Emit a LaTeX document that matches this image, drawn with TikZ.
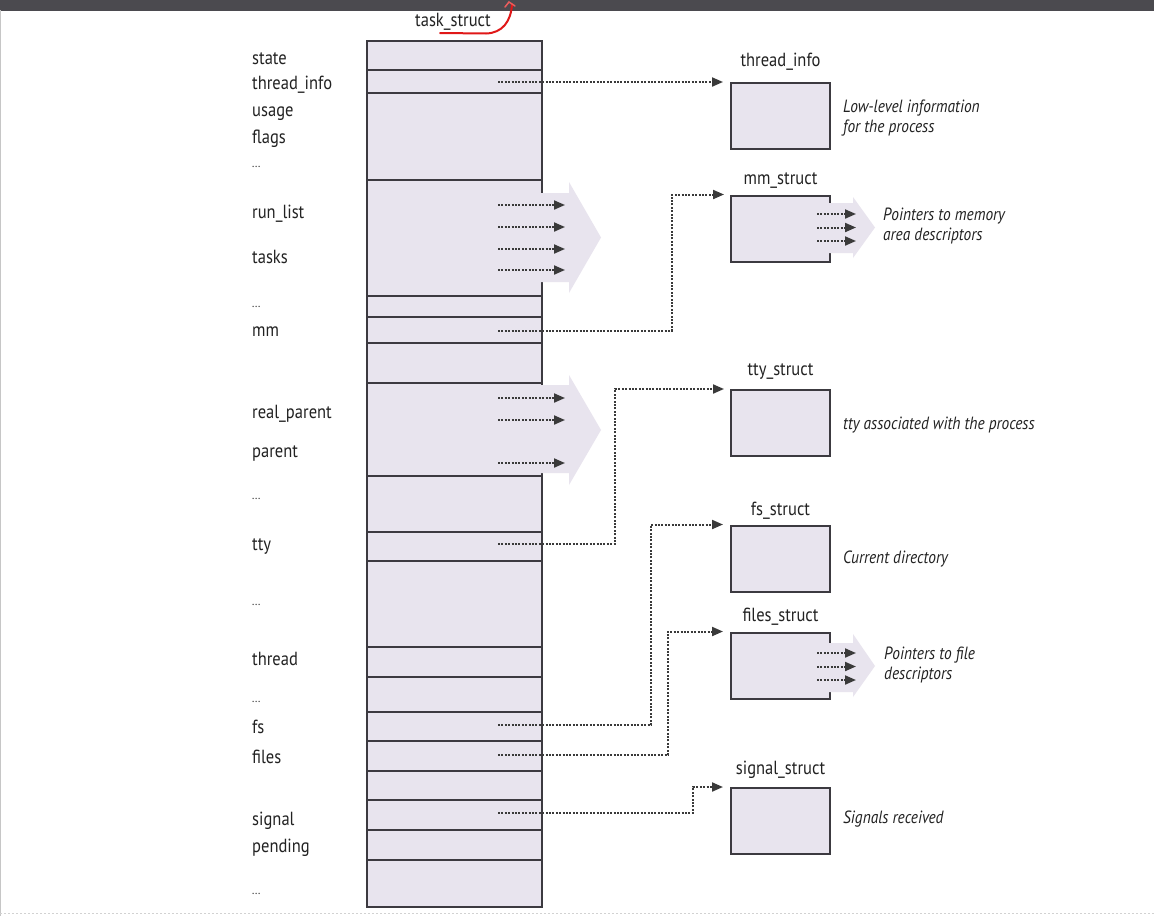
\documentclass[tikz,border=0pt]{standalone}
\usepackage{fontspec}
\setmainfont{PT Sans}[FakeStretch=0.87]
\usetikzlibrary{arrows.meta,calc}
\definecolor{cellfill}{HTML}{E8E4EE}
\definecolor{edgec}{HTML}{3C3A40}
\definecolor{dotc}{HTML}{3A3A3A}
\definecolor{barc}{HTML}{4B4A4F}
\definecolor{redmark}{HTML}{E01818}
\definecolor{txtc}{HTML}{222222}
\tikzset{
  fld/.style={anchor=base west,inner sep=0pt,text=txtc,font=\fontsize{19}{22}\selectfont},
  ttl/.style={anchor=base,inner sep=0pt,text=txtc,font=\fontsize{19}{22}\selectfont},
  dsc/.style={anchor=base west,inner sep=0pt,text=txtc,align=left,font=\fontsize{17.7}{20}\selectfont\itshape},
  sbox/.style={draw=edgec,line width=2pt,fill=cellfill,minimum width=99pt,minimum height=66pt,inner sep=0pt},
  rowline/.style={draw=edgec,line width=2pt},
  ptr/.style={draw=dotc,line width=2pt,dash pattern=on 2pt off 1.4pt,-{Triangle[length=11pt,width=9pt]}},
  fat/.style={fill=cellfill,draw=none},
}
\begin{document}
\begin{tikzpicture}[x=1pt,y=-1pt]
\useasboundingbox (0,0) rectangle (1154,916);
\fill[white] (0,0) rectangle (1154,916);
% window bar
\fill[barc] (0,0) rectangle (1154,10.5);
\draw[gray!45,line width=1pt] (0.5,10) -- (0.5,916);
\draw[gray!35,line width=1pt,dash pattern=on 2pt off 2pt] (0,913) -- (1154,913);

% task_struct column
\node[ttl] (tstitle) at (453,26) {task\_struct};
\draw[fill=cellfill,draw=edgec,line width=2pt] (367,41) rectangle (542,907);
\foreach \yy in {70,93,180,296,317,343,383,476,532,561,647,677,712,741,771,800,830,860}
  \draw[rowline] (367,\yy) -- (542,\yy);

% fat arrows out of the column
\path[fat] (535,193) -- (569,193) -- (569,182) -- (601,237.5) -- (569,293) -- (569,282) -- (535,282) -- cycle;
\path[fat] (535,385) -- (569,385) -- (569,375) -- (601,430) -- (569,485) -- (569,473) -- (535,473) -- cycle;

% field labels
\node[fld] (f-state) at (252,64) {state};
\node[fld] (f-ti) at (252,89) {thread\_info};
\node[fld] (f-usage) at (252,116) {usage};
\node[fld] (f-flags) at (252,143) {flags};
\node[fld,font=\fontsize{12}{12}\selectfont] (f-d1) at (252,167) {...};
\node[fld] (f-run) at (252,218) {run\_list};
\node[fld] (f-tasks) at (252,263) {tasks};
\node[fld,font=\fontsize{12}{12}\selectfont] (f-d2) at (252,307) {...};
\node[fld] (f-mm) at (252,336) {mm};
\node[fld] (f-rp) at (252,418) {real\_parent};
\node[fld] (f-parent) at (252,457) {parent};
\node[fld,font=\fontsize{12}{12}\selectfont] (f-d3) at (252,499) {...};
\node[fld] (f-tty) at (252,550) {tty};
\node[fld,font=\fontsize{12}{12}\selectfont] (f-d4) at (252,605) {...};
\node[fld] (f-thread) at (252,665) {thread};
\node[fld,font=\fontsize{12}{12}\selectfont] (f-d5) at (252,702) {...};
\node[fld] (f-fs) at (252,733) {fs};
\node[fld] (f-files) at (252,763) {files};
\node[fld] (f-signal) at (252,825) {signal};
\node[fld] (f-pending) at (252,852) {pending};
\node[fld,font=\fontsize{12}{12}\selectfont] (f-d6) at (252,894) {...};

% pointer start points inside the column
\coordinate (s-ti) at (498,82);
\coordinate (s-mm) at (498,330.5);
\coordinate (s-tty) at (498,544);
\coordinate (s-fs) at (498,725);
\coordinate (s-files) at (498,755);
\coordinate (s-sig) at (498,813);
\foreach \yy [count=\i] in {205,227,249,270} {
  \coordinate (la\i) at (498,\yy);
  \coordinate (lb\i) at (565,\yy);
  \draw[ptr] (la\i) -- (lb\i);
}
\foreach \yy [count=\i] in {398,420,463} {
  \coordinate (pa\i) at (498,\yy);
  \coordinate (pb\i) at (565,\yy);
  \draw[ptr] (pa\i) -- (pb\i);
}

% right-hand structures
\node[sbox] (ti) at (780.5,116) {};
\node[sbox] (mm) at (780.5,228.5) {};
\node[sbox] (tty) at (780.5,423) {};
\node[sbox] (fs) at (780.5,558.5) {};
\node[sbox] (files) at (780.5,665.5) {};
\node[sbox] (sig) at (780.5,821) {};

\node[ttl] (t-ti) at ([yshift=16pt]ti.north) {thread\_info};
\node[ttl] (t-mm) at ([yshift=10pt]mm.north) {mm\_struct};
\node[ttl] (t-tty) at ([yshift=14pt]tty.north) {tty\_struct};
\node[ttl] (t-fs) at ([yshift=9pt]fs.north) {fs\_struct};
\node[ttl] (t-files) at ([yshift=10pt]files.north) {files\_struct};
\node[ttl] (t-sig) at ([yshift=13pt]sig.north) {signal\_struct};

% small fat arrows out of mm_struct and files_struct
\path[fat] (826,203) -- (853,203) -- (853,197) -- (875,227.5) -- (853,258) -- (853,253) -- (826,253) -- cycle;
\path[fat] (826,643) -- (853,643) -- (853,634) -- (875,666) -- (853,697) -- (853,692) -- (826,692) -- cycle;
\foreach \yy [count=\i] in {214,227.5,241} {
  \coordinate (ma\i) at (817,\yy);
  \coordinate (mb\i) at (856,\yy);
  \draw[ptr] (ma\i) -- (mb\i);
}
\foreach \yy [count=\i] in {653,666.5,680} {
  \coordinate (fa\i) at (817,\yy);
  \coordinate (fb\i) at (856,\yy);
  \draw[ptr] (fa\i) -- (fb\i);
}

% descriptions (base = baseline of the last line)
\node[dsc] (d-ti) at (843,132) {Low-level information\\for the process};
\node[dsc] (d-mm) at (883,240) {Pointers to memory\\area descriptors};
\node[dsc] (d-tty) at (843,429) {tty associated with the process};
\node[dsc] (d-fs) at (843,563) {Current directory};
\node[dsc] (d-files) at (884,679) {Pointers to file\\descriptors};
\node[dsc] (d-sig) at (843,823) {Signals received};

% pointers to the structures
\draw[ptr] (s-ti) -- ([xshift=-7pt]ti.north west);
\draw[ptr] (s-mm) -| ([xshift=-58pt]mm.north west) -- ([xshift=-6pt]mm.north west);
\draw[ptr] (s-tty) -| ([xshift=-115pt]tty.north west) -- ([xshift=-6pt]tty.north west);
\draw[ptr] (s-fs) -| ([xshift=-79pt]fs.north west) -- ([xshift=-7pt]fs.north west);
\draw[ptr] (s-files) -| ([xshift=-62pt]files.north west) -- ([xshift=-7pt]files.north west);
\draw[ptr] (s-sig) -| ([xshift=-37pt]sig.north west) -- ([xshift=-7pt]sig.north west);

% red hand-drawn annotation
\draw[redmark,line width=2pt,line cap=round] (440,33) -- (486,33.5) .. controls (502,33) and (511,22) .. (512,4);
\draw[redmark!70!white,line width=1.5pt,line cap=round] (505,7) -- (509,2) -- (515,6);
\end{tikzpicture}
\end{document}
